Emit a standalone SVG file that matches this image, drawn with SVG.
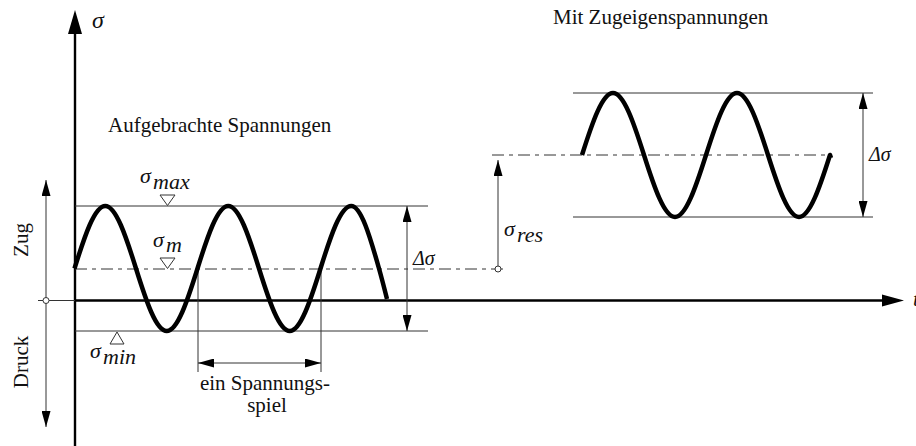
<svg xmlns="http://www.w3.org/2000/svg" width="916" height="446" viewBox="0 0 916 446">
<style>
.txt{font-family:"Liberation Serif","Times New Roman","DejaVu Serif",serif;fill:#111}
.lbl{font-size:21px}
.sym{font-size:22px;font-style:italic}
.thin{stroke:#333;stroke-width:1;fill:none}
.dash{stroke:#333;stroke-width:1;fill:none;stroke-dasharray:12 5 4 5}
.axis{stroke:#000;stroke-width:2.4;fill:none}
.wave{stroke:#000;stroke-width:4.5;fill:none;stroke-linejoin:round}
.dim{stroke:#333;stroke-width:1;fill:none;marker-start:url(#ah);marker-end:url(#ah)}
.tri{fill:#fff;stroke:#333;stroke-width:1}
.dot{fill:#fff;stroke:#333;stroke-width:1}
</style>
<defs>
<marker id="ah" markerUnits="userSpaceOnUse" markerWidth="16" markerHeight="9" refX="16" refY="4.5" orient="auto-start-reverse">
<path d="M0,0 L16,4.5 L0,9 z" fill="#000"/>
</marker>
</defs>

<g id="axes">
<line class="axis" x1="75" y1="30" x2="75" y2="446"/>
<polygon points="75,10 68,34 82,34" fill="#000"/>
<line class="axis" x1="75" y1="300.5" x2="885" y2="300.5"/>
<polygon points="904,300.5 882,294.5 882,306.5" fill="#000"/>
<line class="thin" x1="38" y1="300.5" x2="75" y2="300.5"/>
<text class="txt" x="92" y="28" style="font-size:24px;font-style:italic">σ</text>
<text class="txt" x="913" y="306" style="font-size:22px;font-style:italic">t</text>
</g>

<g id="zug-druck">
<line class="dim" x1="46" y1="180" x2="46" y2="427"/>
<circle class="dot" cx="46" cy="300.5" r="3"/>
<text class="txt lbl" transform="translate(28,240) rotate(-90)" text-anchor="middle">Zug</text>
<text class="txt lbl" transform="translate(28,362) rotate(-90)" text-anchor="middle">Druck</text>
</g>

<g id="connectors">
<line class="thin" x1="75" y1="206" x2="428" y2="206"/>
<line class="thin" x1="75" y1="331" x2="428" y2="331"/>
<line class="dash" x1="75" y1="269" x2="505" y2="269"/>
<line class="dim" x1="407" y1="206" x2="407" y2="331"/>
<line class="thin" x1="198" y1="268" x2="198" y2="372"/>
<line class="thin" x1="321" y1="268" x2="321" y2="372"/>
<line class="dim" x1="198" y1="363" x2="321" y2="363"/>
<line class="thin" x1="498" y1="269" x2="498" y2="160" marker-end="url(#ah)"/>
<line class="dash" x1="492" y1="155" x2="828" y2="155"/>
<line class="thin" x1="573" y1="93" x2="873" y2="93"/>
<line class="thin" x1="573" y1="217" x2="873" y2="217"/>
<line class="dim" x1="863" y1="93" x2="863" y2="217"/>
</g>

<g id="wave-applied">
<path class="wave" d="M74.5,268.5 C84.5,236.5 94.5,206 105.25,206 C116,206 126,236.5 136,268.5 C146,300.5 156,331 166.75,331 C177.5,331 187.5,300.5 197.5,268.5 C207.5,236.5 217.5,206 228.25,206 C239,206 249,236.5 259,268.5 C269,300.5 279,331 289.75,331 C300.5,331 310.5,300.5 320.5,268.5 C330.5,236.5 340.5,206 351.25,206 C361,206 370,236.5 379,268.5 C381.5,277.4 384.5,289 387,299"/>
<text class="txt lbl" x="108" y="132">Aufgebrachte Spannungen</text>
</g>

<g id="sigma-max">
<polygon class="tri" points="160,195 175,195 167.5,205.5"/>
<text class="txt sym" x="140" y="183">σ<tspan x="153" y="189">max</tspan></text>
</g>

<g id="sigma-m">
<polygon class="tri" points="160,258 175,258 167.5,268.5"/>
<text class="txt sym" x="153" y="247">σ<tspan x="166" y="252">m</tspan></text>
</g>

<g id="sigma-min">
<polygon class="tri" points="110,344 124,344 117,332"/>
<text class="txt sym" x="90" y="358">σ<tspan x="103" y="364">min</tspan></text>
</g>

<g id="delta-left">
<text class="txt sym" x="413" y="265" style="font-size:20px">Δσ</text>
</g>

<g id="cycle">
<text class="txt lbl" x="265" y="390" text-anchor="middle">ein Spannungs-</text>
<text class="txt lbl" x="267" y="412" text-anchor="middle">spiel</text>
</g>

<g id="sigma-res">
<circle class="dot" cx="498" cy="269" r="3"/>
<text class="txt sym" x="504" y="236">σ<tspan x="517" y="242">res</tspan></text>
</g>

<g id="wave-residual">
<path class="wave" d="M582,155 C592.1,123.2 602.2,93 613,93 C623.8,93 633.9,123.2 644,155 C654.1,186.8 664.2,217 675,217 C685.8,217 695.9,186.8 706,155 C716.1,123.2 726.2,93 737,93 C747.8,93 757.9,123.2 768,155 C778.1,186.8 788.2,217 799,217 C809.8,217 819.9,186.8 830,155 L831,158"/>
<text class="txt lbl" x="553" y="24">Mit Zugeigenspannungen</text>
</g>

<g id="delta-right">
<text class="txt sym" x="869" y="161" style="font-size:20px">Δσ</text>
</g>
</svg>
